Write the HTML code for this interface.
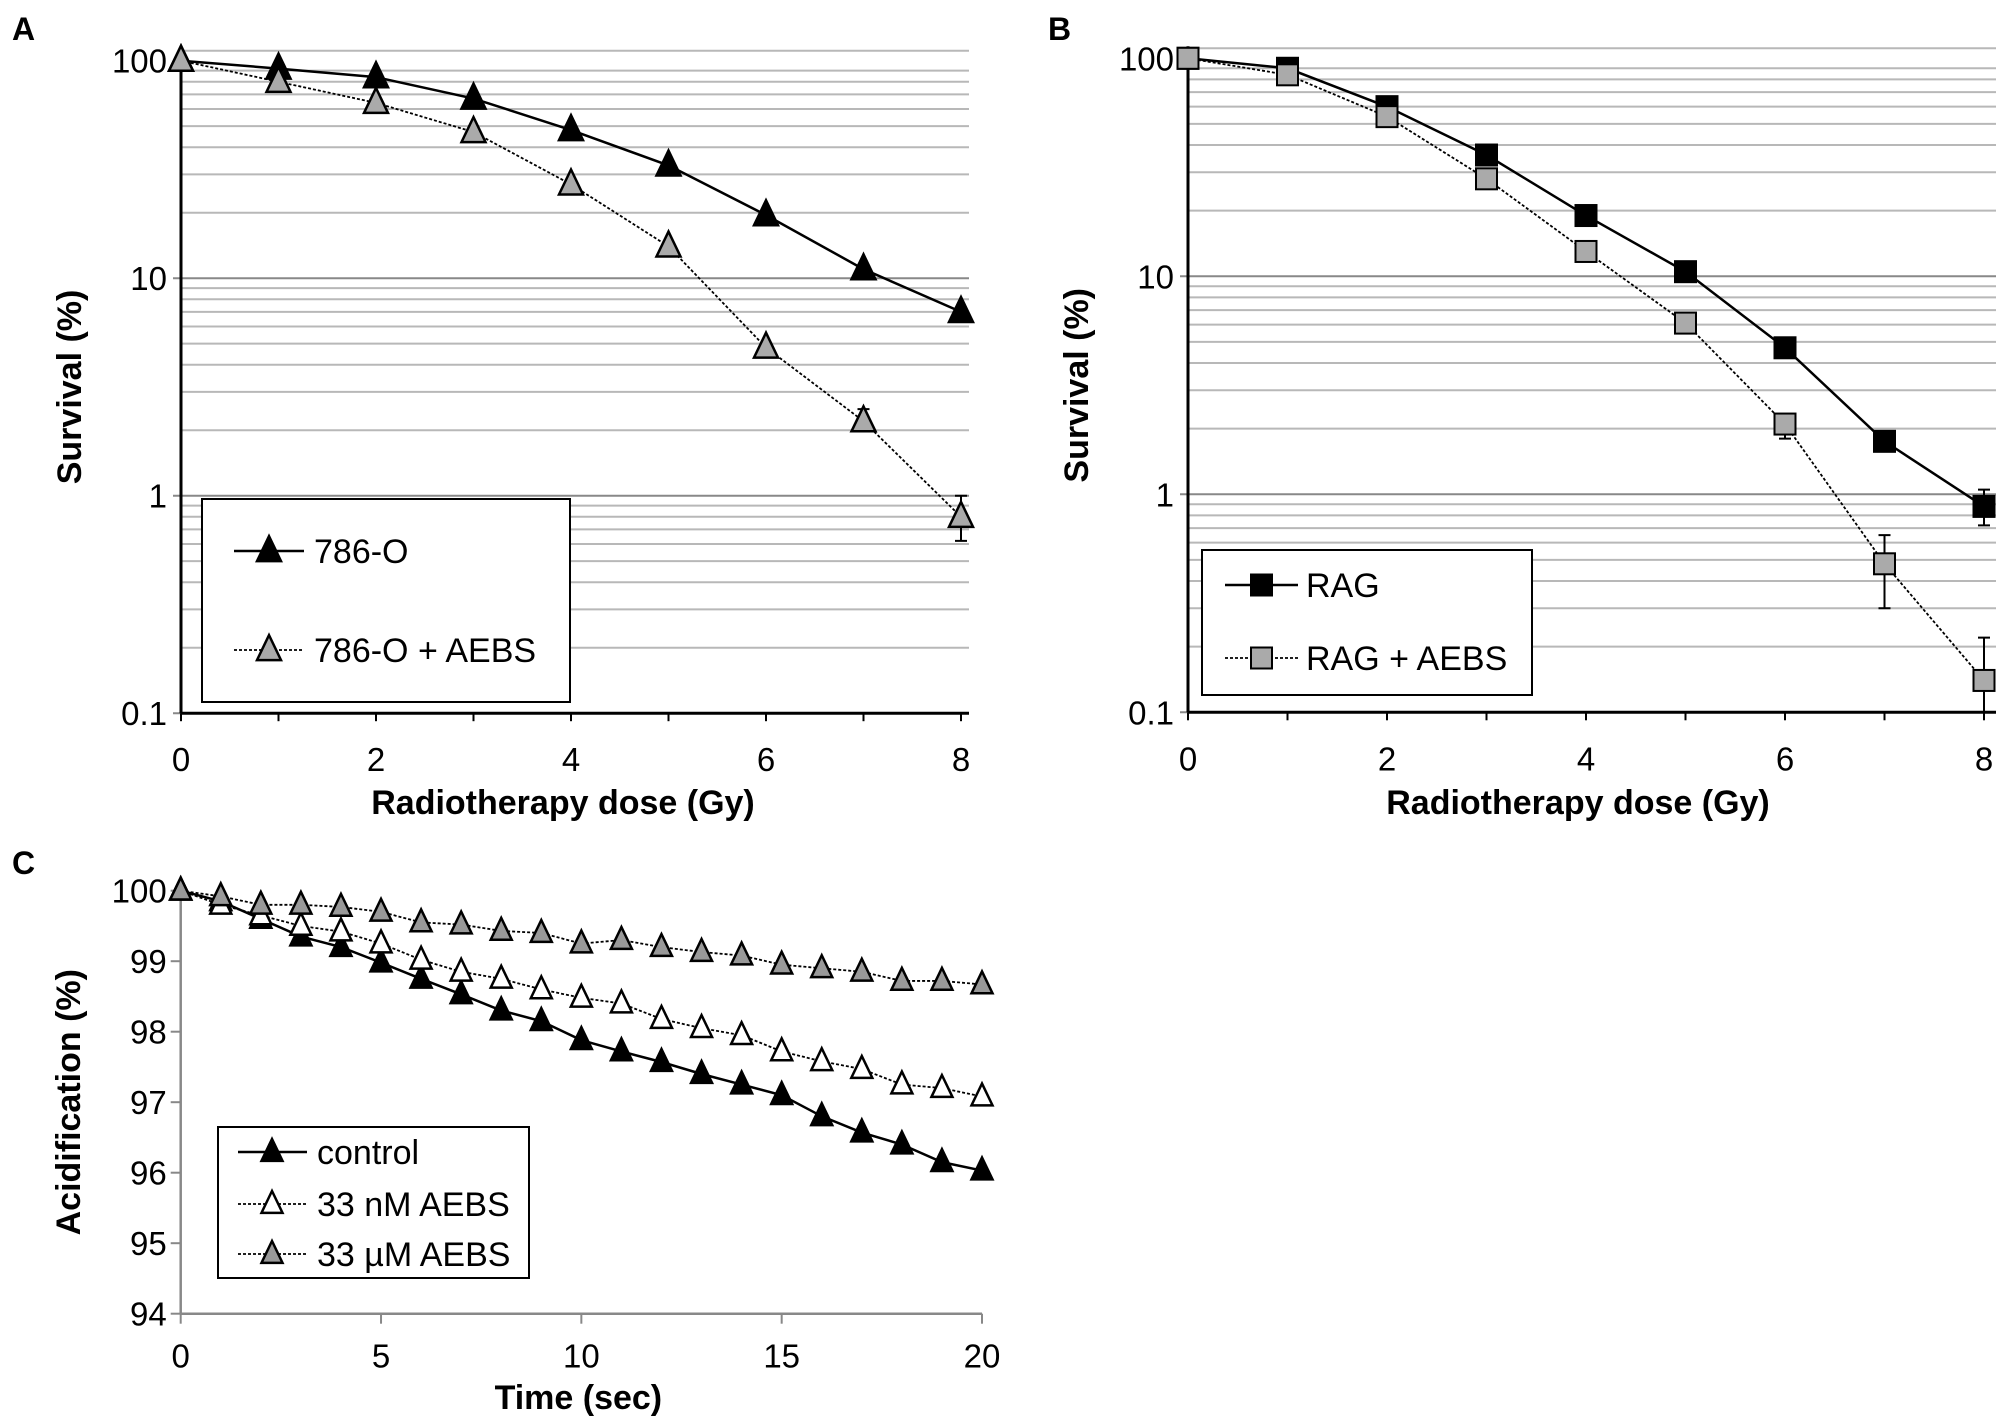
<!DOCTYPE html>
<html><head><meta charset="utf-8">
<style>
html,body{margin:0;padding:0;background:#fff;}
svg{display:block;font-family:"Liberation Sans",Arial,sans-serif;}
</style></head>
<body>
<svg id="fig" width="2008" height="1428" viewBox="0 0 2008 1428" xmlns="http://www.w3.org/2000/svg">
<text x="12" y="40" font-size="32" font-weight="bold">A</text>
<text x="1048" y="40" font-size="32" font-weight="bold">B</text>
<text x="12" y="874" font-size="32" font-weight="bold">C</text>
<g id="pa"></g>
<g id="pb"></g>
<g id="pc"></g>
</svg>
<script>
// ---- Data ----
const doseCats = [0,1,2,3,4,5,6,7,8];
const aCtrl = [100,92,84,67,48,33,19.5,11,7];
const aAebs = [100,80,64,47,27,14,4.8,2.2,0.8];
const aAebsErrLo = [null,null,null,null,null,null,null,2.0,0.62];
const aAebsErrHi = [null,null,null,null,null,null,null,2.5,1.0];
const bRag = [100,90,60,36,19,10.5,4.7,1.75,0.88];
const bRagErrLo = [null,null,null,null,null,null,null,1.6,0.72];
const bRagErrHi = [null,null,null,null,null,null,null,1.9,1.05];
const bAebs = [100,84,54,28,13,6.1,2.1,0.48,0.14];
const bAebsErrLo = [null,null,null,null,null,null,1.8,0.3,0.1];
const bAebsErrHi = [null,null,null,null,null,null,2.3,0.65,0.22];
const doseTicks = [0,2,4,6,8];
const logTickLabels = ["100","10","1","0.1"];
const logTickValues = [100,10,1,0.1];
const timeCats = [0,1,2,3,4,5,6,7,8,9,10,11,12,13,14,15,16,17,18,19,20];
const cControl = [100,99.85,99.6,99.35,99.2,98.98,98.75,98.53,98.3,98.15,97.88,97.72,97.57,97.4,97.25,97.1,96.8,96.57,96.4,96.15,96.03];
const cNano = [100,99.8,99.65,99.5,99.42,99.25,99.02,98.85,98.75,98.6,98.48,98.4,98.18,98.05,97.95,97.72,97.58,97.47,97.25,97.2,97.08];
const cMicro = [100,99.92,99.8,99.8,99.77,99.7,99.55,99.52,99.43,99.4,99.25,99.3,99.2,99.13,99.08,98.95,98.9,98.85,98.72,98.72,98.67];
const timeTicks = [0,5,10,15,20];
const acidTicks = [94,95,96,97,98,99,100];

const NS="http://www.w3.org/2000/svg";
const TF=33, AF=34, LF=34;
function mk(parent,tag,attrs,text){const e=document.createElementNS(NS,tag);for(const k in attrs)e.setAttribute(k,attrs[k]);if(text!==undefined)e.textContent=text;parent.appendChild(e);return e;}
function tri(g,x,y,fill,s){return mk(g,'polygon',{points:`${x},${y-s*0.62} ${x-s/2},${y+s*0.42} ${x+s/2},${y+s*0.42}`,fill:fill,stroke:'#000','stroke-width':2.5});}
function sq(g,x,y,fill,s){return mk(g,'rect',{x:x-s/2,y:y-s/2,width:s,height:s,fill:fill,stroke:'#000','stroke-width':2});}

function logPanel(g,o){
  const X=v=>o.x0+(o.x8-o.x0)*v/8;
  const Y=v=>o.y100+o.dec*(2-Math.log10(v));
  const top=o.y100-10;
  let l=mk(g,'line',{x1:o.x0,x2:o.right,y1:top,y2:top,stroke:'#b8b8b8','stroke-width':2});
  
  
  for(let d=-1;d<=1;d++){for(let m=1;m<=9;m++){const v=m*Math.pow(10,d);const y=Y(v);
    const ln=mk(g,'line',{x1:o.x0-(m==1?8:0),x2:o.right,y1:y,y2:y,stroke:m==1?'#888':'#b8b8b8','stroke-width':2});
    
    }}
  mk(g,'line',{x1:o.x0,x2:o.x0,y1:top-2,y2:Y(0.1),stroke:'#000','stroke-width':3,});
  mk(g,'line',{x1:o.x0,x2:o.right,y1:Y(0.1),y2:Y(0.1),stroke:'#000','stroke-width':3,});
  logTickValues.forEach((v,i)=>{const t=mk(g,'text',{x:o.x0-14,y:Y(v)+12,'font-size':TF,'text-anchor':'end'},logTickLabels[i]);
    
    });
  doseCats.forEach(d=>{const tk=mk(g,'line',{x1:X(d),x2:X(d),y1:Y(0.1),y2:Y(0.1)+8,stroke:'#000','stroke-width':2});
    
    });
  doseTicks.forEach(d=>{const t=mk(g,'text',{x:X(d),y:Y(0.1)+58,'font-size':TF,'text-anchor':'middle'},String(d));
    
    });
  mk(g,'text',{x:(o.x0+o.x8)/2-8,y:814,'font-size':AF,'font-weight':'bold','text-anchor':'middle',},'Radiotherapy dose (Gy)');
  mk(g,'text',{x:0,y:0,'font-size':AF,'font-weight':'bold','text-anchor':'middle',transform:`translate(${o.x0-100},${(o.y100+Y(0.1))/2}) rotate(-90)`,},'Survival (%)');
  o.series.forEach(s=>{
    const pts=doseCats.map((d,i)=>X(d)+','+Y(s.vals[i])).join(' ');
    const pl=mk(g,'polyline',{points:pts,fill:'none',stroke:'#000','stroke-width':s.dash?1.8:2.5,'stroke-dasharray':s.dash?'3,2':'none'});
    
    
    doseCats.forEach((d,i)=>{
      if(s.lo&&s.lo[i]!=null){const x=X(d);
        const eb=mk(g,'path',{d:`M${x},${Y(s.lo[i])}V${Y(s.hi[i])}M${x-6},${Y(s.lo[i])}H${x+6}M${x-6},${Y(s.hi[i])}H${x+6}`,stroke:'#000','stroke-width':2,fill:'none'});
        
        }
      const m=s.shape=='tri'?tri(g,X(d),Y(s.vals[i]),s.fill,24):sq(g,X(d),Y(s.vals[i]),s.fill,21);
      
      
    });
  });
  const L=o.leg;
  mk(g,'rect',{x:L.x,y:L.y,width:L.w,height:L.h,fill:'#fff',stroke:'#000','stroke-width':2,});
  o.series.forEach((s,i)=>{const y=L.rows[i];
    mk(g,'line',{x1:L.l1,x2:L.l2,y1:y,y2:y,stroke:'#000','stroke-width':s.dash?1.8:2.5,'stroke-dasharray':s.dash?'3,2':'none'});
    const m=s.shape=='tri'?tri(g,(L.l1+L.l2)/2,y,s.fill,24):sq(g,(L.l1+L.l2)/2,y,s.fill,21);
    
    
    const t=mk(g,'text',{x:L.tx,y:y+12,'font-size':LF},s.label);
    
    });
}

logPanel(document.getElementById('pa'),{x0:181,x8:961,right:969,y100:60.7,dec:217.5,
  series:[{name:'786-o',label:'786-O',vals:aCtrl,shape:'tri',fill:'#000',dash:false},
          {name:'786-o-aebs',label:'786-O + AEBS',vals:aAebs,lo:aAebsErrLo,hi:aAebsErrHi,shape:'tri',fill:'#aaa',dash:true}],
  leg:{x:202,y:499,w:368,h:203,rows:[551,650],l1:234,l2:304,tx:314}});
logPanel(document.getElementById('pb'),{x0:1188,x8:1984,right:1996,y100:58.3,dec:218,
  series:[{name:'rag',label:'RAG',vals:bRag,lo:bRagErrLo,hi:bRagErrHi,shape:'sq',fill:'#000',dash:false},
          {name:'rag-aebs',label:'RAG + AEBS',vals:bAebs,lo:bAebsErrLo,hi:bAebsErrHi,shape:'sq',fill:'#aaa',dash:true}],
  leg:{x:1202,y:550,w:330,h:145,rows:[585,658],l1:1225,l2:1298,tx:1306}});

(function(){
  const g=document.getElementById('pc');
  const x0=180.7,x20=982,y100=890.7,unit=70.5;
  const X=v=>x0+(x20-x0)*v/20;
  const Y=v=>y100+(100-v)*unit;
  mk(g,'line',{x1:x0,x2:x0,y1:Y(100),y2:Y(94),stroke:'#888','stroke-width':2.5,});
  mk(g,'line',{x1:x0,x2:x20,y1:Y(94),y2:Y(94),stroke:'#888','stroke-width':2.5,});
  acidTicks.forEach(v=>{
    const tk=mk(g,'line',{x1:x0-10,x2:x0,y1:Y(v),y2:Y(v),stroke:'#888','stroke-width':2});
    
    
    const t=mk(g,'text',{x:x0-14,y:Y(v)+12,'font-size':TF,'text-anchor':'end'},String(v));
    
    });
  timeTicks.forEach(v=>{
    const tk=mk(g,'line',{x1:X(v),x2:X(v),y1:Y(94),y2:Y(94)+10,stroke:'#888','stroke-width':2});
    
    
    const t=mk(g,'text',{x:X(v),y:Y(94)+54,'font-size':TF,'text-anchor':'middle'},String(v));
    
    });
  mk(g,'text',{x:(x0+x20)/2-3,y:1409,'font-size':AF,'font-weight':'bold','text-anchor':'middle',},'Time (sec)');
  mk(g,'text',{x:0,y:0,'font-size':AF,'font-weight':'bold','text-anchor':'middle',transform:`translate(80,${(Y(100)+Y(94))/2}) rotate(-90)`,},'Acidification (%)');
  const series=[{name:'control',label:'control',vals:cControl,fill:'#000',dash:false},
                {name:'33nm-aebs',label:'33 nM AEBS',vals:cNano,fill:'#fff',dash:true},
                {name:'33um-aebs',label:'33 µM AEBS',vals:cMicro,fill:'#999',dash:true}];
  series.slice().reverse().forEach(s=>{
    const pl=mk(g,'polyline',{points:timeCats.map((t,i)=>X(t)+','+Y(s.vals[i])).join(' '),fill:'none',stroke:'#000','stroke-width':s.dash?1.8:2.5,'stroke-dasharray':s.dash?'3,2':'none'});
    
    
  });
  series.forEach(s=>{
    timeCats.forEach((t,i)=>{const m=tri(g,X(t),Y(s.vals[i]),s.fill,21);
      
      });
  });
  mk(g,'rect',{x:218,y:1127,width:311,height:151,fill:'#fff',stroke:'#000','stroke-width':2,});
  const rows=[1152,1204,1254];
  series.forEach((s,i)=>{const y=rows[i];
    mk(g,'line',{x1:238,x2:307,y1:y,y2:y,stroke:'#000','stroke-width':s.dash?1.8:2.5,'stroke-dasharray':s.dash?'3,2':'none'});
    const m=tri(g,272,y,s.fill,21);
    
    
    const t=mk(g,'text',{x:317,y:y+12,'font-size':LF},s.label);
    
    });
})();
</script>
</body></html>
